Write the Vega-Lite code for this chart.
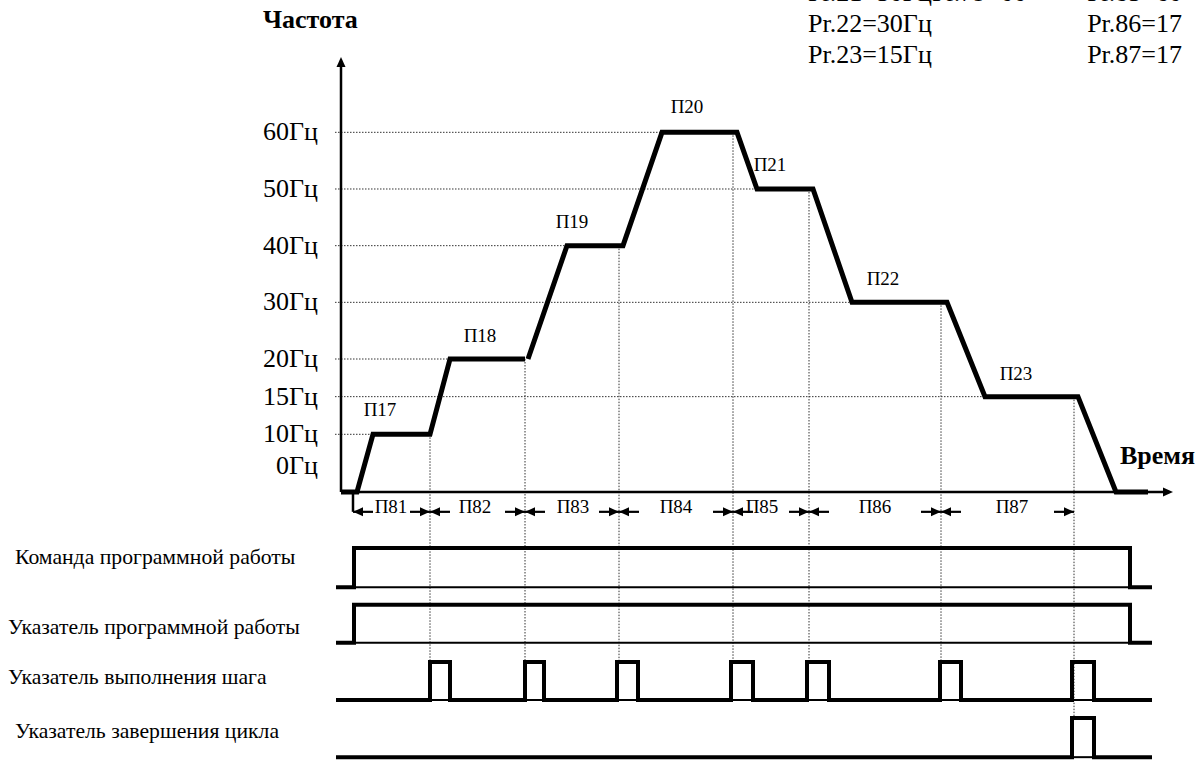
{
  "$schema": "https://vega.github.io/schema/vega-lite/v6.json",
  "width": 1201,
  "height": 760,
  "padding": 0,
  "autosize": {"type": "none"},
  "background": "white",
  "config": {"view": {"stroke": null}, "text": {"font": "Liberation Serif", "fill": "black"}},
  "datasets": {
    "profile": [
      {"seg": "A", "i": 0, "t": 0, "f": 0}, {"seg": "A", "i": 1, "t": 1.6, "f": 0}, {"seg": "A", "i": 2, "t": 3.2, "f": 10},
      {"seg": "A", "i": 3, "t": 8.9, "f": 10}, {"seg": "A", "i": 4, "t": 10.9, "f": 20}, {"seg": "A", "i": 5, "t": 18.4, "f": 20},
      {"seg": "B", "i": 6, "t": 18.7, "f": 20}, {"seg": "B", "i": 7, "t": 22.6, "f": 40}, {"seg": "B", "i": 8, "t": 28.2, "f": 40},
      {"seg": "B", "i": 9, "t": 32.1, "f": 60}, {"seg": "B", "i": 10, "t": 39.6, "f": 60}, {"seg": "B", "i": 11, "t": 41.6, "f": 50},
      {"seg": "B", "i": 12, "t": 47.2, "f": 50}, {"seg": "B", "i": 13, "t": 51.1, "f": 30}, {"seg": "B", "i": 14, "t": 60.6, "f": 30},
      {"seg": "B", "i": 15, "t": 64.4, "f": 15}, {"seg": "B", "i": 16, "t": 73.7, "f": 15}, {"seg": "B", "i": 17, "t": 77.5, "f": 0},
      {"seg": "B", "i": 18, "t": 80.7, "f": 0}
    ],
    "gridh": [
      {"f": 60, "t0": -0.6, "t1": 32.1}, {"f": 50, "t0": -0.6, "t1": 41.6}, {"f": 40, "t0": -0.6, "t1": 22.6},
      {"f": 30, "t0": -0.6, "t1": 51.1}, {"f": 20, "t0": -0.6, "t1": 10.9}, {"f": 15, "t0": -0.6, "t1": 64.4},
      {"f": 10, "t0": -0.6, "t1": 3.2}
    ],
    "gridv": [
      {"t": 8.9, "f0": 10, "f1": -30}, {"t": 18.4, "f0": 20, "f1": -30}, {"t": 27.8, "f0": 40, "f1": -30},
      {"t": 39.2, "f0": 60, "f1": -30}, {"t": 46.8, "f0": 50, "f1": -30}, {"t": 60.0, "f0": 30, "f1": -30},
      {"t": 73.3, "f0": 15, "f1": -39.9}
    ],
    "axes": [
      {"t0": 0, "t1": 0, "y0": 0, "y1": 72},
      {"t0": 0, "t1": 82.3, "y0": 0, "y1": 0},
      {"t0": 1.2, "t1": 1.2, "y0": 0, "y1": -3.5}
    ],
    "axisheads": [
      {"t": 0, "y": 73.3, "dir": "up"},
      {"t": 83.2, "y": 0, "dir": "right"}
    ],
    "dims": [
      {"tip": 1.2, "tail": 3.2, "dir": "left"},
      {"tip": 8.9, "tail": 6.9, "dir": "right"}, {"tip": 8.9, "tail": 10.9, "dir": "left"},
      {"tip": 18.4, "tail": 16.4, "dir": "right"}, {"tip": 18.4, "tail": 20.4, "dir": "left"},
      {"tip": 27.8, "tail": 25.8, "dir": "right"}, {"tip": 27.8, "tail": 29.8, "dir": "left"},
      {"tip": 39.2, "tail": 37.2, "dir": "right"}, {"tip": 39.2, "tail": 41.2, "dir": "left"},
      {"tip": 46.8, "tail": 44.8, "dir": "right"}, {"tip": 46.8, "tail": 48.8, "dir": "left"},
      {"tip": 60.0, "tail": 58.0, "dir": "right"}, {"tip": 60.0, "tail": 62.0, "dir": "left"},
      {"tip": 73.3, "tail": 71.3, "dir": "right"}
    ],
    "periods": [
      {"label": "П81", "t": 5.0}, {"label": "П82", "t": 13.4}, {"label": "П83", "t": 23.2}, {"label": "П84", "t": 33.5},
      {"label": "П85", "t": 42.1}, {"label": "П86", "t": 53.4}, {"label": "П87", "t": 67.1}
    ],
    "steps": [
      {"label": "П17", "t": 3.9, "f": 13.2}, {"label": "П18", "t": 13.9, "f": 24.1}, {"label": "П19", "t": 23.1, "f": 44.2},
      {"label": "П20", "t": 34.6, "f": 64.5}, {"label": "П21", "t": 42.9, "f": 54.2}, {"label": "П22", "t": 54.2, "f": 34.1},
      {"label": "П23", "t": 67.5, "f": 18.0}
    ],
    "yticks": [
      {"label": "60Гц", "f": 60}, {"label": "50Гц", "f": 50}, {"label": "40Гц", "f": 40}, {"label": "30Гц", "f": 30},
      {"label": "20Гц", "f": 20}, {"label": "15Гц", "f": 15}, {"label": "10Гц", "f": 10}, {"label": "0Гц", "f": 4.5}
    ],
    "signals": [
      {"sig": "cmd", "i": 0, "t": -0.5, "y": -16.8}, {"sig": "cmd", "i": 1, "t": 1.3, "y": -16.8}, {"sig": "cmd", "i": 2, "t": 1.3, "y": -9.9},
      {"sig": "cmd", "i": 3, "t": 78.9, "y": -9.9}, {"sig": "cmd", "i": 4, "t": 78.9, "y": -16.8}, {"sig": "cmd", "i": 5, "t": 81.1, "y": -16.8},
      {"sig": "prog", "i": 0, "t": -0.5, "y": -26.6}, {"sig": "prog", "i": 1, "t": 1.3, "y": -26.6}, {"sig": "prog", "i": 2, "t": 1.3, "y": -19.9},
      {"sig": "prog", "i": 3, "t": 78.9, "y": -19.9}, {"sig": "prog", "i": 4, "t": 78.9, "y": -26.6}, {"sig": "prog", "i": 5, "t": 81.1, "y": -26.6},
      {"sig": "step", "i": 0, "t": -0.5, "y": -36.7}, {"sig": "step", "i": 1, "t": 8.9, "y": -36.7}, {"sig": "step", "i": 2, "t": 8.9, "y": -30.0},
      {"sig": "step", "i": 3, "t": 10.9, "y": -30.0}, {"sig": "step", "i": 4, "t": 10.9, "y": -36.7}, {"sig": "step", "i": 5, "t": 18.4, "y": -36.7},
      {"sig": "step", "i": 6, "t": 18.4, "y": -30.0}, {"sig": "step", "i": 7, "t": 20.3, "y": -30.0}, {"sig": "step", "i": 8, "t": 20.3, "y": -36.7},
      {"sig": "step", "i": 9, "t": 27.6, "y": -36.7}, {"sig": "step", "i": 10, "t": 27.6, "y": -30.0}, {"sig": "step", "i": 11, "t": 29.7, "y": -30.0},
      {"sig": "step", "i": 12, "t": 29.7, "y": -36.7}, {"sig": "step", "i": 13, "t": 39.0, "y": -36.7}, {"sig": "step", "i": 14, "t": 39.0, "y": -30.0},
      {"sig": "step", "i": 15, "t": 41.2, "y": -30.0}, {"sig": "step", "i": 16, "t": 41.2, "y": -36.7}, {"sig": "step", "i": 17, "t": 46.6, "y": -36.7},
      {"sig": "step", "i": 18, "t": 46.6, "y": -30.0}, {"sig": "step", "i": 19, "t": 48.8, "y": -30.0}, {"sig": "step", "i": 20, "t": 48.8, "y": -36.7},
      {"sig": "step", "i": 21, "t": 59.9, "y": -36.7}, {"sig": "step", "i": 22, "t": 59.9, "y": -30.0}, {"sig": "step", "i": 23, "t": 62.0, "y": -30.0},
      {"sig": "step", "i": 24, "t": 62.0, "y": -36.7}, {"sig": "step", "i": 25, "t": 73.1, "y": -36.7}, {"sig": "step", "i": 26, "t": 73.1, "y": -30.0},
      {"sig": "step", "i": 27, "t": 75.3, "y": -30.0}, {"sig": "step", "i": 28, "t": 75.3, "y": -36.7}, {"sig": "step", "i": 29, "t": 81.1, "y": -36.7},
      {"sig": "cycle", "i": 0, "t": -0.5, "y": -46.8}, {"sig": "cycle", "i": 1, "t": 73.1, "y": -46.8}, {"sig": "cycle", "i": 2, "t": 73.1, "y": -39.9},
      {"sig": "cycle", "i": 3, "t": 75.3, "y": -39.9}, {"sig": "cycle", "i": 4, "t": 75.3, "y": -46.8}, {"sig": "cycle", "i": 5, "t": 81.1, "y": -46.8}
    ],
    "baselines": [
      {"sig": "cmd", "t0": 1.3, "t1": 78.9, "y": -16.8},
      {"sig": "prog", "t0": 1.3, "t1": 78.9, "y": -26.6},
      {"sig": "step", "t0": -0.5, "t1": 81.1, "y": -36.7},
      {"sig": "cycle", "t0": 73.1, "t1": 75.3, "y": -46.8}
    ],
    "siglabels": [
      {"label": "Команда программной работы", "t": -32.6, "y": -11.5},
      {"label": "Указатель программной работы", "t": -33.3, "y": -23.8},
      {"label": "Указатель выполнения шага", "t": -33.3, "y": -32.6},
      {"label": "Указатель завершения цикла", "t": -32.6, "y": -42.2}
    ],
    "titles": [
      {"label": "Частота", "t": -7.8, "y": 79.8},
      {"label": "Время", "t": 77.9, "y": 6.3}
    ],
    "paramsleft": [
      {"label": "Pr.21=50Гц", "t": 46.7, "y": 84.6},
      {"label": "Pr.79=00", "t": 59.1, "y": 84.6},
      {"label": "Pr.22=30Гц", "t": 46.7, "y": 79.1},
      {"label": "Pr.23=15Гц", "t": 46.7, "y": 73.6}
    ],
    "paramsright": [
      {"label": "Pr.85=60", "t": 84.1, "y": 84.6},
      {"label": "Pr.86=17", "t": 84.1, "y": 79.1},
      {"label": "Pr.87=17", "t": 84.1, "y": 73.6}
    ]
  },
  "layer": [
    {
      "data": {"name": "gridh"},
      "mark": {"type": "rule", "stroke": "#333", "strokeWidth": 1, "strokeDash": [1.5, 1.5]},
      "encoding": {
        "x": {"field": "t0", "type": "quantitative", "scale": {"domain": [-34.1, 86.0], "nice": false, "zero": false}, "axis": null},
        "x2": {"field": "t1"},
        "y": {"field": "f", "type": "quantitative", "scale": {"type": "linear", "domain": [-47.3, 0, 10, 20, 83.35], "range": [760, 492, 434.3, 359, 0], "nice": false, "zero": false}, "axis": null}
      }
    },
    {
      "data": {"name": "gridv"},
      "mark": {"type": "rule", "stroke": "#333", "strokeWidth": 1, "strokeDash": [1.5, 1.5]},
      "encoding": {
        "x": {"field": "t", "type": "quantitative", "axis": null},
        "y": {"field": "f0", "type": "quantitative", "axis": null},
        "y2": {"field": "f1"}
      }
    },
    {
      "data": {"name": "axes"},
      "mark": {"type": "rule", "stroke": "black", "strokeWidth": 2.5},
      "encoding": {
        "x": {"field": "t0", "type": "quantitative", "axis": null},
        "x2": {"field": "t1"},
        "y": {"field": "y0", "type": "quantitative", "axis": null},
        "y2": {"field": "y1"}
      }
    },
    {
      "data": {"name": "axisheads"},
      "mark": {"type": "point", "filled": true, "fill": "black", "opacity": 1, "strokeWidth": 0, "size": 100},
      "encoding": {
        "x": {"field": "t", "type": "quantitative", "axis": null},
        "y": {"field": "y", "type": "quantitative", "axis": null},
        "shape": {"field": "dir", "type": "nominal", "legend": null, "scale": {"domain": ["up", "right", "left"], "range": ["M0,0L-0.9,2L0.9,2Z", "M0,0L-2,-0.9L-2,0.9Z", "M0,0L2,-0.9L2,0.9Z"]}}
      }
    },
    {
      "data": {"name": "dims"},
      "mark": {"type": "rule", "stroke": "black", "strokeWidth": 2.2},
      "encoding": {
        "x": {"field": "tip", "type": "quantitative", "axis": null},
        "x2": {"field": "tail"},
        "y": {"datum": -3.5, "type": "quantitative", "axis": null}
      }
    },
    {
      "data": {"name": "dims"},
      "mark": {"type": "point", "filled": true, "fill": "black", "opacity": 1, "strokeWidth": 0, "size": 100},
      "encoding": {
        "x": {"field": "tip", "type": "quantitative", "axis": null},
        "y": {"datum": -3.5, "type": "quantitative", "axis": null},
        "shape": {"field": "dir", "type": "nominal", "legend": null}
      }
    },
    {
      "data": {"name": "profile"},
      "mark": {"type": "line", "stroke": "black", "strokeWidth": 5, "strokeJoin": "miter", "strokeCap": "butt"},
      "encoding": {
        "x": {"field": "t", "type": "quantitative", "axis": null},
        "y": {"field": "f", "type": "quantitative", "axis": null},
        "detail": {"field": "seg"},
        "order": {"field": "i", "type": "quantitative"}
      }
    },
    {
      "data": {"name": "baselines"},
      "mark": {"type": "rule", "stroke": "black", "strokeWidth": 2},
      "encoding": {
        "x": {"field": "t0", "type": "quantitative", "axis": null},
        "x2": {"field": "t1"},
        "y": {"field": "y", "type": "quantitative", "axis": null}
      }
    },
    {
      "data": {"name": "signals"},
      "mark": {"type": "line", "stroke": "black", "strokeWidth": 4, "strokeJoin": "miter", "strokeCap": "butt"},
      "encoding": {
        "x": {"field": "t", "type": "quantitative", "axis": null},
        "y": {"field": "y", "type": "quantitative", "axis": null},
        "detail": {"field": "sig"},
        "order": {"field": "i", "type": "quantitative"}
      }
    },
    {
      "data": {"name": "steps"},
      "mark": {"type": "text", "fontSize": 19, "align": "center", "baseline": "middle"},
      "encoding": {
        "x": {"field": "t", "type": "quantitative", "axis": null},
        "y": {"field": "f", "type": "quantitative", "axis": null},
        "text": {"field": "label"}
      }
    },
    {
      "data": {"name": "periods"},
      "mark": {"type": "text", "fontSize": 19, "align": "center", "baseline": "middle"},
      "encoding": {
        "x": {"field": "t", "type": "quantitative", "axis": null},
        "y": {"datum": -2.6, "type": "quantitative", "axis": null},
        "text": {"field": "label"}
      }
    },
    {
      "data": {"name": "yticks"},
      "mark": {"type": "text", "fontSize": 26, "align": "right", "baseline": "middle"},
      "encoding": {
        "x": {"datum": -2.3, "type": "quantitative", "axis": null},
        "y": {"field": "f", "type": "quantitative", "axis": null},
        "text": {"field": "label"}
      }
    },
    {
      "data": {"name": "siglabels"},
      "mark": {"type": "text", "fontSize": 21.7, "align": "left", "baseline": "middle"},
      "encoding": {
        "x": {"field": "t", "type": "quantitative", "axis": null},
        "y": {"field": "y", "type": "quantitative", "axis": null},
        "text": {"field": "label"}
      }
    },
    {
      "data": {"name": "titles"},
      "mark": {"type": "text", "fontSize": 26, "fontWeight": "bold", "align": "left", "baseline": "middle"},
      "encoding": {
        "x": {"field": "t", "type": "quantitative", "axis": null},
        "y": {"field": "y", "type": "quantitative", "axis": null},
        "text": {"field": "label"}
      }
    },
    {
      "data": {"name": "paramsleft"},
      "mark": {"type": "text", "fontSize": 26, "align": "left", "baseline": "middle"},
      "encoding": {
        "x": {"field": "t", "type": "quantitative", "axis": null},
        "y": {"field": "y", "type": "quantitative", "axis": null},
        "text": {"field": "label"}
      }
    },
    {
      "data": {"name": "paramsright"},
      "mark": {"type": "text", "fontSize": 26, "align": "right", "baseline": "middle"},
      "encoding": {
        "x": {"field": "t", "type": "quantitative", "axis": null},
        "y": {"field": "y", "type": "quantitative", "axis": null},
        "text": {"field": "label"}
      }
    }
  ]
}
